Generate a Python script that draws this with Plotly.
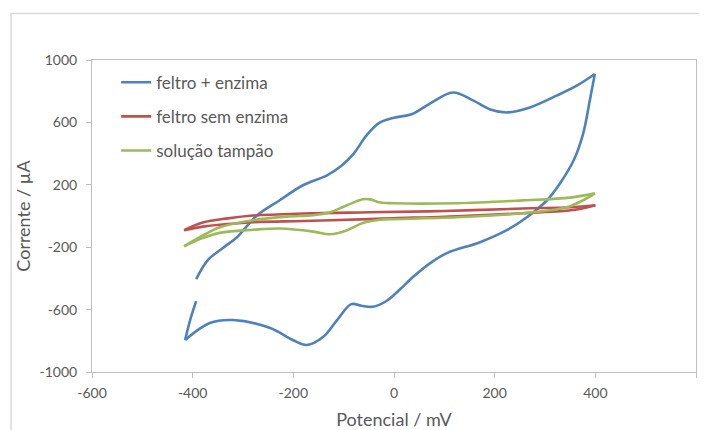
import plotly.graph_objects as go

# feltro + enzima (blue): forward scan, reverse scan, final segment
blue_fwd_x = [-393, -370, -340, -312, -272, -227, -181, -133, -105, -80, -55, -30, 0, 35, 72, 117, 157, 191, 225, 270, 324, 364, 399]
blue_fwd_y = [-405, -283, -205, -136, 5, 101, 197, 261, 320, 400, 515, 595, 630, 652, 722, 792, 741, 683, 664, 696, 773, 837, 910]
blue_rev_x = [399, 389, 376, 357, 330, 304, 264, 224, 171, 105, 72, 40, 12, -15, -42, -65, -85, -113, -141, -173, -201, -246, -320, -366, -415]
blue_rev_y = [910, 741, 530, 357, 210, 101, -8, -91, -168, -238, -302, -385, -470, -545, -582, -575, -565, -667, -776, -827, -795, -718, -667, -686, -795]
blue_end_x = [-415, -405, -393]
blue_end_y = [-795, -667, -546]

# feltro sem enzima (red)
red_up_x = [-417, -380, -330, -280, -180, -50, 100, 256, 350, 400]
red_up_y = [-91, -42, -15, 3, 16, 24, 32, 48, 56, 69]
red_lo_x = [400, 360, 256, 100, 0, -50, -180, -280, -380, -417]
red_lo_y = [69, 40, 18, -5, -14, -20, -32, -40, -68, -91]

# solução tampão (green)
green_up_x = [-417, -379, -346, -280, -213, -160, -127, -93, -62, -45, -30, -2, 125, 256, 350, 399]
green_up_y = [-194, -123, -72, -27, -4, 5, 24, 69, 107, 105, 88, 82, 82, 100, 118, 145]
green_lo_x = [399, 383, 343, 256, 125, -8, -28, -62, -93, -127, -160, -226, -280, -346, -379, -417]
green_lo_y = [145, 113, 56, 18, -8, -21, -24, -45, -91, -117, -100, -80, -88, -108, -140, -194]

names = ["feltro + enzima", "feltro sem enzima", "solução tampão"]
colors = ["#4F81BD", "#C0504D", "#9BBB59"]
x_ticks = [-600, -400, -200, 0, 200, 400, 600]
y_ticks = [-1000, -600, -200, 200, 600, 1000]

series = [
    [(blue_fwd_x, blue_fwd_y), (blue_rev_x, blue_rev_y), (blue_end_x, blue_end_y)],
    [(red_up_x, red_up_y), (red_lo_x, red_lo_y)],
    [(green_up_x, green_up_y), (green_lo_x, green_lo_y)],
]

fig = go.Figure()
for i, segs in enumerate(series):
    for j, (xs, ys) in enumerate(segs):
        fig.add_trace(go.Scatter(x=xs, y=ys, mode="lines", name=names[i], legendgroup=str(i),
                                 showlegend=(j == 0),
                                 line=dict(color=colors[i], width=2.6, shape="spline", smoothing=1.0)))

font_family = "Lato, Carlito, sans-serif"
axis_common = dict(showline=True, linecolor="#BFBFBF", linewidth=1, mirror=True, showgrid=False,
                   zeroline=False, ticks="outside", ticklen=5, tickcolor="#BFBFBF", automargin=False,
                   tickfont=dict(family=font_family, size=14, color="#595959"))

fig.update_layout(
    width=699, height=422,
    margin=dict(l=84, r=11, t=52, b=58),
    paper_bgcolor="white", plot_bgcolor="white",
    xaxis=dict(range=[-600, 600], tickvals=x_ticks, ticktext=[str(v) for v in x_ticks], **axis_common,
               ticklabelstandoff=3,
               title=dict(text="Potencial / mV", standoff=14,
                          font=dict(family=font_family, size=18, color="#595959"))),
    yaxis=dict(range=[-1000, 1000], tickvals=y_ticks, ticktext=[str(v) for v in y_ticks], **axis_common,
               ticklabelstandoff=6,
               title=dict(text="Corrente / µA", standoff=4,
                          font=dict(family=font_family, size=18, color="#595959"))),
    legend=dict(x=0.04, y=0.985, xanchor="left", yanchor="top", bgcolor="rgba(0,0,0,0)",
                font=dict(family=font_family, size=17, color="#595959"),
                tracegroupgap=9, itemwidth=30),
    showlegend=True,
    shapes=[dict(type="rect", xref="paper", yref="paper", x0=-0.134, x1=1.05, y0=-0.3, y1=1.149,
                 line=dict(color="#D9D9D9", width=1.5), fillcolor="rgba(0,0,0,0)", layer="below")],
)

fig.write_html("out.html")
